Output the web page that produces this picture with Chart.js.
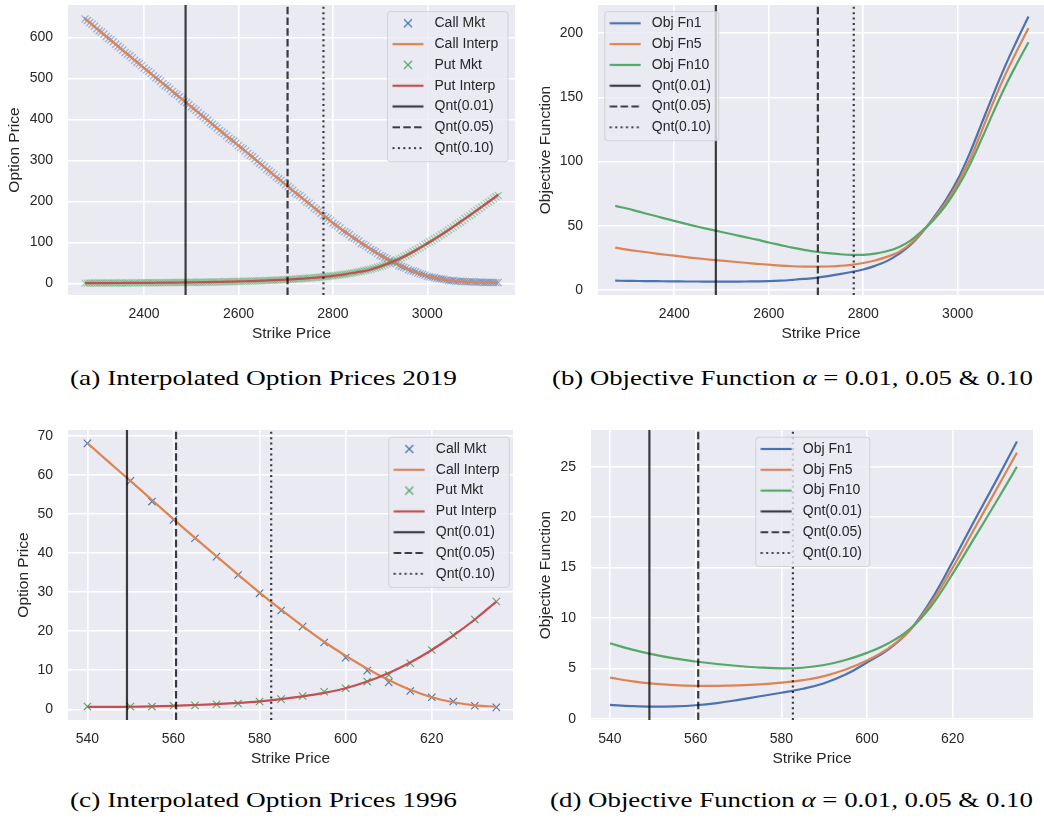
<!DOCTYPE html>
<html><head><meta charset="utf-8">
<script src="https://cdn.jsdelivr.net/npm/chart.js@4.4.1/dist/chart.umd.min.js"></script>
<style>
html,body{margin:0;padding:0;background:#fff;}
#wrap{position:relative;width:1044px;height:818px;overflow:hidden;background:#fff;}
#wrap canvas{position:absolute;}
.cap{position:absolute;font-family:"Liberation Serif","DejaVu Serif",serif;font-size:22px;line-height:22px;color:#000;white-space:nowrap;transform-origin:0 0;}
</style></head><body>
<div id="wrap">
<canvas id="cA" width="520" height="341" style="left:0;top:0;width:520px;height:341px"></canvas>
<canvas id="cB" width="524" height="341" style="left:520px;top:0;width:524px;height:341px"></canvas>
<canvas id="cC" width="520" height="341" style="left:0;top:425px;width:520px;height:341px"></canvas>
<canvas id="cD" width="524" height="341" style="left:520px;top:425px;width:524px;height:341px"></canvas>
<div class="cap" id="capA">(a) Interpolated Option Prices 2019</div>
<div class="cap" id="capB">(b) Objective Function <i>α</i> = 0.01<i>,</i> 0.05 &amp; 0.10</div>
<div class="cap" id="capC">(c) Interpolated Option Prices 1996</div>
<div class="cap" id="capD">(d) Objective Function <i>α</i> = 0.01<i>,</i> 0.05 &amp; 0.10</div>
</div>
<script>
// ===================== DATA =====================
// 2019 market quotes (strike step 5)
const strikesMkt2019 = [
  2275,2280,2285,2290,2295,2300,2305,2310,2315,2320,
  2325,2330,2335,2340,2345,2350,2355,2360,2365,2370,
  2375,2380,2385,2390,2395,2400,2405,2410,2415,2420,
  2425,2430,2435,2440,2445,2450,2455,2460,2465,2470,
  2475,2480,2485,2490,2495,2500,2505,2510,2515,2520,
  2525,2530,2535,2540,2545,2550,2555,2560,2565,2570,
  2575,2580,2585,2590,2595,2600,2605,2610,2615,2620,
  2625,2630,2635,2640,2645,2650,2655,2660,2665,2670,
  2675,2680,2685,2690,2695,2700,2705,2710,2715,2720,
  2725,2730,2735,2740,2745,2750,2755,2760,2765,2770,
  2775,2780,2785,2790,2795,2800,2805,2810,2815,2820,
  2825,2830,2835,2840,2845,2850,2855,2860,2865,2870,
  2875,2880,2885,2890,2895,2900,2905,2910,2915,2920,
  2925,2930,2935,2940,2945,2950,2955,2960,2965,2970,
  2975,2980,2985,2990,2995,3000,3005,3010,3015,3020,
  3025,3030,3035,3040,3045,3050,3055,3060,3065,3070,
  3075,3080,3085,3090,3095,3100,3105,3110,3115,3120,
  3125,3130,3135,3140,3145,3150];
const callMkt2019 = [
  645,641,636,632,627,621,616,613,608,602,
  597,594,589,583,578,574,569,563,559,555,
  550,544,539,536,531,525,520,517,512,506,
  501,498,493,487,482,479,474,468,463,460,
  455,449,444,441,436,430,426,422,417,411,
  407,403,398,392,388,384,379,373,369,365,
  360,354,350,347,342,336,331,328,323,317,
  312,309,304,298,293,289,284,278,274,270,
  265,259,255,251,246,240,236,232,227,221,
  217,214,209,203,198,195,190,184,180,176,
  171,165,161,158,153,147,143,140,135,129,
  126,123,119,113,110,107,103,97,95,92,
  88,83,80,77,73,68,66,63,60,55,
  53,51,48,43,41,39,37,33,31,30,
  28,25,23,22,20,17,16,15,14,12,
  11,11,10,8,7,7,7,5,5,5,
  5,4,3.5,4,4,3,2.5,3,3,2,
  2,2.5,2.5,2,1.6,1.8];
const putMkt2019 = [
  0.5,0.5,0.6,0.6,0.6,0.6,0.6,0.7,0.7,0.7,
  0.7,0.8,0.8,0.8,0.8,0.9,0.9,0.9,0.9,1.0,
  1.0,1.0,1.1,1.1,1.2,1.2,1.2,1.3,1.3,1.3,
  1.4,1.5,1.5,1.6,1.6,1.7,1.8,1.8,1.9,2.0,
  2.0,2.1,2.2,2.2,2.3,2.4,2.5,2.5,2.6,2.7,
  2.8,2.9,3.0,3.1,3.2,3.3,3.4,3.5,3.6,3.8,
  3.9,4.0,4.2,4.3,4.5,4.6,4.8,5.0,5.1,5.3,
  5.4,5.6,5.8,6.0,6.2,6.4,6.6,6.9,7.1,7.3,
  7.6,7.8,8.1,8.4,8.7,9.0,9.4,9.7,10.1,10.4,
  10.8,11.2,11.6,12.0,12.4,12.8,13.3,13.8,14.3,14.8,
  15.3,15.9,16.5,17.1,17.8,18.5,19.2,19.9,20.6,21.4,
  22.2,23.1,24.0,25.0,26.0,27.1,28.2,29.3,30.5,31.7,
  33,34.5,36,37.5,39,41,43,45,47,49.5,
  52,54.5,57,59.5,62,65,68,71,74,77.5,
  81,84,87,91,95,98,101,104,108,111,
  115,119,122,126,130,134,137,142,146,149,
  153,158,162,165,169,174,178,182,186,191,
  195,198,202,207,211,214];
// 2019 interpolated curves / objective functions
const strikesFine2019 = [2275,2300,2325,2350,2375,2400,2425,2450,2475,2500,2525,2550,2575,2600,2625,2650,2675,2700,2725,2750,2775,2800,2825,2850,2875,2900,2925,2950,2975,3000,3025,3050,3075,3100,3125,3150];
const callInterp2019 = [645,621,597,573,549,525,501,478,454,431,407,383,359,336,312,288,264,240,217,194,170,147,126,106,87,69,53,39,27,18,11,6.5,4,2.5,2,1.5];
const putInterp2019 = [0.5,0.6,0.7,0.8,1.0,1.2,1.4,1.7,2.0,2.4,2.8,3.3,3.9,4.6,5.4,6.4,7.6,9.0,10.7,12.7,15.1,18.2,22.0,26.8,32,41,52,65,80,97,115,134,154,174,195,216];
const objFn1_2019 = [7.3,7.1,7.0,6.9,6.8,6.7,6.6,6.6,6.5,6.5,6.5,6.6,6.7,6.9,7.3,7.9,8.6,9.5,10.8,12.3,14.0,16.0,18.8,22.5,28,35,45,57,70,86,106,129,152,174,194,213];
const objFn5_2019 = [33,31.5,30.2,29,27.8,26.7,25.6,24.6,23.7,22.9,22.0,21.2,20.4,19.7,19.0,18.5,18.2,18.2,18.3,18.8,19.6,21.0,23.0,25.8,29.5,36,45.5,56,68,83,101,123,146,167,186,204];
const objFn10_2019 = [65.5,63.5,61,58.6,56.2,53.8,51.5,49.3,47.2,45.2,43.2,41.2,39.2,37.0,35.0,33.0,31.3,29.8,28.7,27.9,27.4,27.4,28.3,30.2,33.3,38.5,46,55,66,80,97,117,138,158,176,193];
const quantiles2019 = [2488, 2704, 2780];

// 1996
const strikesMkt1996 = [540,550,555,560,565,570,575,580,585,590,595,600,605,610,615,620,625,630,635];
const callMkt1996 = [68.1,58.5,53.2,48.5,43.8,39.1,34.4,29.7,25.3,21.2,17.1,13.2,9.9,6.9,4.7,3.1,2.0,0.9,0.5];
const putMkt1996 = [0.7,0.7,0.7,0.9,1.0,1.3,1.5,2.0,2.6,3.4,4.5,5.4,7.1,8.8,11.8,15.2,19.0,23.0,27.6];
const strikesFine1996 = [540,545,550,555,560,565,570,575,580,585,590,595,600,605,610,615,620,625,630,635];
const callInterp1996 = [68.2,63.3,58.5,53.6,48.7,43.9,39.2,34.5,29.9,25.5,21.3,17.3,13.7,10.4,7.5,5.0,3.1,1.8,1.0,0.7];
const putInterp1996 = [0.6,0.6,0.65,0.75,0.9,1.1,1.35,1.65,2.05,2.6,3.3,4.2,5.4,7.1,9.3,12.0,15.2,18.9,23.0,27.6];
const objFn1_1996 = [1.39,1.28,1.22,1.25,1.36,1.58,1.9,2.25,2.6,3.0,3.55,4.4,5.6,6.9,8.8,11.8,15.6,19.6,23.5,27.5];
const objFn5_1996 = [4.1,3.75,3.5,3.35,3.28,3.28,3.33,3.43,3.6,3.85,4.25,4.9,5.8,7.0,8.8,11.5,15.0,18.8,22.6,26.4];
const objFn10_1996 = [7.5,6.9,6.4,6.0,5.7,5.45,5.25,5.1,5.02,5.08,5.35,5.85,6.55,7.5,8.9,11.2,14.4,17.9,21.4,25.0];
const quantiles1996 = [549.2, 560.6, 582.7];

// labels & ticks
const quantileLabels = ['Qnt(0.01)', 'Qnt(0.05)', 'Qnt(0.10)'];
const xTicks2019 = [2400, 2600, 2800, 3000];
const xTicks1996 = [540, 560, 580, 600, 620];
const yTicksA = [0, 100, 200, 300, 400, 500, 600];
const yTicksB = [0, 50, 100, 150, 200];
const yTicksC = [0, 10, 20, 30, 40, 50, 60, 70];
const yTicksD = [0, 5, 10, 15, 20, 25];

// ===================== STYLE =====================
const FONT = '"Liberation Sans", Arial, Helvetica, sans-serif';
const TXT = '#262626';
const BLUE = '#4C72B0', ORANGE = '#DD8452', GREEN = '#55A868', RED = '#C44E52';
const QCOL = 'rgba(0,0,0,0.75)';
const DASHES = [[], [7.5, 3.3], [2, 3.4]];

Chart.defaults.font.family = FONT;
Chart.defaults.color = TXT;

function pts(xs, ys) { return xs.map((x, i) => ({x: x, y: ys[i]})); }
function iconLine(color, dash) {
  const c = document.createElement('canvas'); c.width = 32; c.height = 6;
  const g = c.getContext('2d'); g.strokeStyle = color; g.lineWidth = 2.2; g.setLineDash(dash || []);
  g.beginPath(); g.moveTo(0.5, 3); g.lineTo(31.5, 3); g.stroke(); return c;
}
function iconX(color) {
  const c = document.createElement('canvas'); c.width = 12; c.height = 12;
  const g = c.getContext('2d'); g.strokeStyle = color; g.lineWidth = 1.2;
  g.beginPath(); g.moveTo(2, 2); g.lineTo(10, 10); g.moveTo(10, 2); g.lineTo(2, 10); g.stroke(); return c;
}
function scatterDS(label, xs, ys, color, r, col, bw) {
  return {label, data: pts(xs, ys), showLine: false, pointStyle: 'crossRot', pointRadius: r, pointHoverRadius: r,
    pointBorderColor: col, pointBackgroundColor: col, pointBorderWidth: bw, borderColor: col, backgroundColor: col,
    icon: iconX(color)};
}
function lineDS(label, xs, ys, color) {
  return {label, data: pts(xs, ys), borderColor: color, backgroundColor: color, borderWidth: 2.2,
    pointRadius: 0, tension: 0.4, icon: iconLine(color)};
}
function qDSs(qs, yr) {
  return qs.map((q, i) => ({label: quantileLabels[i], data: [{x: q, y: yr[0]}, {x: q, y: yr[1]}],
    borderColor: QCOL, backgroundColor: QCOL, borderWidth: 2.2, borderDash: DASHES[i], pointRadius: 0,
    icon: iconLine(QCOL, DASHES[i])}));
}

const bgPlugin = {
  id: 'bgArea',
  beforeDraw(chart) {
    const {ctx, chartArea: a} = chart;
    ctx.save(); ctx.fillStyle = '#EAEAF2'; ctx.fillRect(a.left, a.top, a.width, a.height); ctx.restore();
  }
};

function legendPlugin(L) {
  function place(chart) {
    const lg = chart.legend; if (!lg) return;
    lg.left = L.hc - 19.5 - 6.8; lg.top = L.y1 - 7 - 6.8;
    lg.width = 220; lg.height = 220; lg.right = lg.left + 220; lg.bottom = lg.top + 220;
  }
  function frame(chart) {
    const ctx = chart.ctx;
    const x = L.hc - 20.5, y = L.y1 - 11.8, w = L.w, h = L.n * 20.8 + 4.5, r = 3;
    ctx.save();
    ctx.beginPath();
    ctx.moveTo(x + r, y); ctx.lineTo(x + w - r, y); ctx.arcTo(x + w, y, x + w, y + r, r);
    ctx.lineTo(x + w, y + h - r); ctx.arcTo(x + w, y + h, x + w - r, y + h, r);
    ctx.lineTo(x + r, y + h); ctx.arcTo(x, y + h, x, y + h - r, r);
    ctx.lineTo(x, y + r); ctx.arcTo(x, y, x + r, y, r); ctx.closePath();
    ctx.fillStyle = 'rgba(234,234,242,0.8)'; ctx.fill();
    ctx.lineWidth = 1; ctx.strokeStyle = 'rgba(204,204,204,0.8)'; ctx.stroke();
    ctx.restore();
  }
  return {
    id: 'legendPlace',
    beforeLayout(chart) {
      const lg = chart.legend;
      if (lg && !lg.__onTop) {
        lg.__onTop = true;
        lg._layers = function () { return [{z: 100, draw: (area) => { frame(chart); lg.draw(area); }}]; };
      }
    },
    afterLayout(chart) { place(chart); },
    afterUpdate(chart) { place(chart); }
  };
}

function makeChart(id, S) {
  const N = S.datasets.length;
  S.datasets.forEach((d, i) => { d.order = N - i; });
  const tickFont = {family: FONT, size: 14, lineHeight: 1.2};
  const titleFont = {family: FONT, size: 15.5, lineHeight: 1};
  return new Chart(document.getElementById(id), {
    type: 'line',
    data: {datasets: S.datasets},
    options: {
      responsive: false, animation: false, devicePixelRatio: 1,
      events: [],
      layout: {padding: S.padding, autoPadding: false},
      scales: {
        x: {
          type: 'linear', position: 'bottom', min: S.xr[0], max: S.xr[1],
          afterBuildTicks: (s) => { s.ticks = S.xTicks.map(v => ({value: v})); },
          afterFit: (s) => { s.height = S.xH; s.paddingLeft = 0; s.paddingRight = 0; },
          grid: {color: '#ffffff', lineWidth: 1.6, drawTicks: false},
          border: {display: false},
          ticks: {padding: 10.5, font: tickFont, color: TXT, autoSkip: false, maxRotation: 0, callback: (v) => String(v)},
          title: {display: true, text: 'Strike Price', font: titleFont, color: TXT, padding: {top: 0, bottom: 0}}
        },
        y: {
          type: 'linear', position: 'left', min: S.yr[0], max: S.yr[1],
          afterBuildTicks: (s) => { s.ticks = S.yTicks.map(v => ({value: v})); },
          afterFit: (s) => { s.width = S.yW; s.paddingTop = 0; s.paddingBottom = 0; },
          grid: {color: '#ffffff', lineWidth: 1.6, drawTicks: false},
          border: {display: false},
          ticks: {padding: 15, font: tickFont, color: TXT, autoSkip: false, callback: (v) => String(v)},
          title: {display: true, text: S.yTitle, font: titleFont, color: TXT, padding: {top: S.yTitlePad, bottom: 0}}
        }
      },
      plugins: {
        tooltip: {enabled: false},
        legend: {
          display: true, position: 'chartArea', align: 'start',
          labels: {
            usePointStyle: true, pointStyleWidth: 39, boxHeight: 14, padding: 6.8,
            color: TXT, font: {family: FONT, size: 14},
            generateLabels: (chart) => chart.data.datasets.map((d, i) => ({
              text: d.label, pointStyle: d.icon, datasetIndex: i, hidden: false,
              fillStyle: 'rgba(0,0,0,0)', strokeStyle: 'rgba(0,0,0,0)', lineWidth: 0, fontColor: TXT
            }))
          }
        }
      }
    },
    plugins: [bgPlugin, legendPlugin(S.legend)]
  });
}

// ===================== PANELS =====================
const yrA = [-28.5, 678.8], yrB = [-3.9, 222], yrC = [-2.74, 71.53], yrD = [-0.1, 28.64];

makeChart('cA', {
  datasets: [
    scatterDS('Call Mkt', strikesMkt2019, callMkt2019, BLUE, 5.0, 'rgba(76,114,176,0.5)', 1.2),
    lineDS('Call Interp', strikesFine2019, callInterp2019, ORANGE),
    scatterDS('Put Mkt', strikesMkt2019, putMkt2019, GREEN, 5.0, 'rgba(85,168,104,0.5)', 1.2),
    lineDS('Put Interp', strikesFine2019, putInterp2019, RED)
  ].concat(qDSs(quantiles2019, yrA)),
  padding: {left: 0, top: 5, right: 5, bottom: 0},
  xr: [2239, 3185.7], yr: yrA, xTicks: xTicks2019, yTicks: yTicksA,
  xH: 46, yW: 68, yTitle: 'Option Price', yTitlePad: 7.25,
  legend: {hc: 408, y1: 23.3, w: 120.5, n: 7}
});

makeChart('cB', {
  datasets: [
    lineDS('Obj Fn1', strikesFine2019, objFn1_2019, BLUE),
    lineDS('Obj Fn5', strikesFine2019, objFn5_2019, ORANGE),
    lineDS('Obj Fn10', strikesFine2019, objFn10_2019, GREEN)
  ].concat(qDSs(quantiles2019, yrB)),
  padding: {left: 0, top: 5, right: 0, bottom: 0},
  xr: [2238.5, 3182.8], yr: yrB, xTicks: xTicks2019, yTicks: yTicksB,
  xH: 46, yW: 78, yTitle: 'Objective Function', yTitlePad: 18.25,
  legend: {hc: 105.3, y1: 23.3, w: 114, n: 6}
});

makeChart('cC', {
  datasets: [
    scatterDS('Call Mkt', strikesMkt1996, callMkt1996, BLUE, 5.2, BLUE, 1.1),
    lineDS('Call Interp', strikesFine1996, callInterp1996, ORANGE),
    scatterDS('Put Mkt', strikesMkt1996, putMkt1996, GREEN, 5.2, GREEN, 1.1),
    lineDS('Put Interp', strikesFine1996, putInterp1996, RED)
  ].concat(qDSs(quantiles1996, yrC)),
  padding: {left: 0, top: 5, right: 7, bottom: 0},
  xr: [535.5, 638.87], yr: yrC, xTicks: xTicks1996, yTicks: yTicksC,
  xH: 46, yW: 68, yTitle: 'Option Price', yTitlePad: 16.25,
  legend: {hc: 409.3, y1: 24, w: 120.5, n: 7}
});

makeChart('cD', {
  datasets: [
    lineDS('Obj Fn1', strikesFine1996, objFn1_1996, BLUE),
    lineDS('Obj Fn5', strikesFine1996, objFn5_1996, ORANGE),
    lineDS('Obj Fn10', strikesFine1996, objFn10_1996, GREEN)
  ].concat(qDSs(quantiles1996, yrD)),
  padding: {left: 0, top: 5, right: 11, bottom: 0},
  xr: [535.57, 638.75], yr: yrD, xTicks: xTicks1996, yTicks: yTicksD,
  xH: 46, yW: 71, yTitle: 'Objective Function', yTitlePad: 18.25,
  legend: {hc: 256.3, y1: 24, w: 114, n: 6}
});

// ===================== CAPTIONS =====================
function fitCap(id, left, width, cy) {
  const el = document.getElementById(id);
  const w = el.getBoundingClientRect().width;
  el.style.left = left + 'px';
  el.style.top = (cy - 11) + 'px';
  el.style.transform = 'scaleX(' + (width / w) + ')';
}
fitCap('capA', 70, 387, 378);
fitCap('capB', 552, 481, 378);
fitCap('capC', 70, 387, 800);
fitCap('capD', 550, 483, 800);
</script>
</body></html>
